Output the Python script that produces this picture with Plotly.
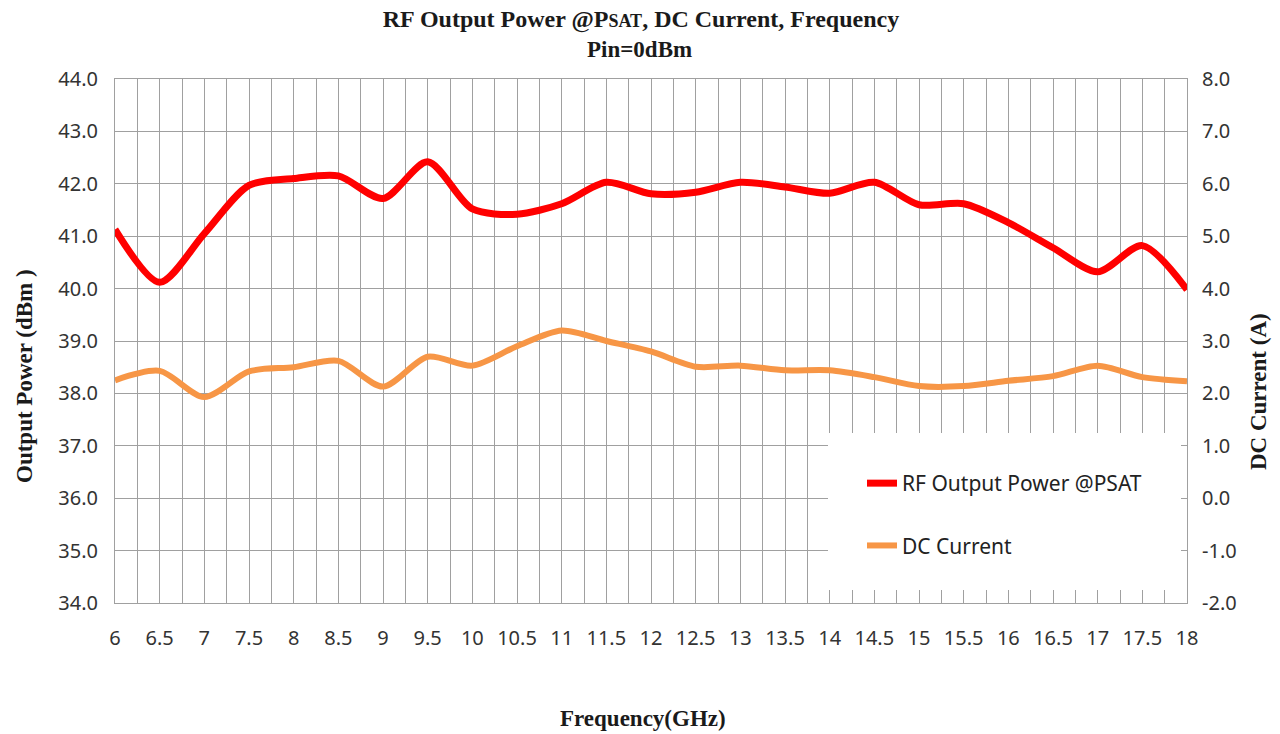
import plotly.graph_objects as go

freq = [6, 6.5, 7, 7.5, 8, 8.5, 9, 9.5, 10, 10.5, 11, 11.5, 12, 12.5, 13, 13.5, 14, 14.5, 15, 15.5, 16, 16.5, 17, 17.5, 18]
rf_power = [41.13, 40.12, 41.05, 41.97, 42.10, 42.15, 41.72, 42.42, 41.52, 41.42, 41.62, 42.03, 41.81, 41.84, 42.03, 41.94, 41.82, 42.03, 41.60, 41.62, 41.26, 40.78, 40.32, 40.82, 39.98]
dc_current = [2.25, 2.43, 1.93, 2.42, 2.50, 2.62, 2.13, 2.70, 2.53, 2.90, 3.20, 3.00, 2.80, 2.51, 2.53, 2.44, 2.44, 2.31, 2.14, 2.14, 2.24, 2.33, 2.53, 2.31, 2.23]

x_ticks = [6, 6.5, 7, 7.5, 8, 8.5, 9, 9.5, 10, 10.5, 11, 11.5, 12, 12.5, 13, 13.5, 14, 14.5, 15, 15.5, 16, 16.5, 17, 17.5, 18]
x_tick_text = ["6", "6.5", "7", "7.5", "8", "8.5", "9", "9.5", "10", "10.5", "11", "11.5", "12", "12.5", "13", "13.5", "14", "14.5", "15", "15.5", "16", "16.5", "17", "17.5", "18"]
y1_ticks = [34, 35, 36, 37, 38, 39, 40, 41, 42, 43, 44]
y1_tick_text = ["34.0", "35.0", "36.0", "37.0", "38.0", "39.0", "40.0", "41.0", "42.0", "43.0", "44.0"]
y2_ticks = [-2, -1, 0, 1, 2, 3, 4, 5, 6, 7, 8]
y2_tick_text = ["-2.0", "-1.0", "0.0", "1.0", "2.0", "3.0", "4.0", "5.0", "6.0", "7.0", "8.0"]

RED = "#FF0000"
ORANGE = "#F79646"
GRID = "#A0A0A0"
TICKFONT = dict(family="Noto Sans, DejaVu Sans, sans-serif", size=20, color="#333333")
SERIF = "Liberation Serif, Times New Roman, serif"

# plot area in page pixels
X0, X1, Y0, Y1 = 115, 1187, 79, 603
PW, PH = X1 - X0, Y1 - Y0

def px(xp):
    return (xp - X0) / PW

def py(yp):
    return (Y1 - yp) / PH

fig = go.Figure()
fig.add_trace(go.Scatter(
    x=freq, y=rf_power, name="RF Output Power @PSAT", mode="lines",
    line=dict(color=RED, width=7, shape="spline", smoothing=0.8),
    legendgroup="a", yaxis="y"))
fig.add_trace(go.Scatter(
    x=freq, y=dc_current, name="DC Current", mode="lines",
    line=dict(color=ORANGE, width=6, shape="spline", smoothing=0.8),
    legendgroup="b", yaxis="y2"))

# white box behind legend (covers grid as in the reference)
fig.add_shape(type="rect", xref="paper", yref="paper",
              x0=px(828), x1=px(1181), y0=py(590), y1=py(433),
              fillcolor="white", line=dict(width=0), layer="above")

fig.update_layout(
    width=1280, height=734,
    margin=dict(l=X0, r=1280 - X1, t=Y0, b=734 - Y1),
    paper_bgcolor="white", plot_bgcolor="white",
    showlegend=True,
    title=dict(text="<b>RF Output Power @P<span style='font-size:18px'>SAT</span>, DC Current, Frequency</b>",
               x=641 / 1280, xanchor="center", y=1 - 19 / 734, yanchor="middle",
               font=dict(family=SERIF, size=24, color="#1a1a1a")),
    legend=dict(x=px(862), y=py(463), xanchor="left", yanchor="top",
                bgcolor="rgba(0,0,0,0)", borderwidth=0,
                font=dict(family="Noto Sans, DejaVu Sans, sans-serif", size=21, color="#222222"),
                traceorder="grouped", tracegroupgap=32),
    xaxis=dict(range=[6, 18], tickvals=x_ticks, ticktext=x_tick_text,
               showgrid=True, gridcolor=GRID, gridwidth=1,
               minor=dict(dtick=0.25, tick0=6, showgrid=True, gridcolor=GRID, gridwidth=1),
               showline=True, linecolor=GRID, linewidth=1, mirror=True,
               ticks="outside", ticklen=17, tickcolor="rgba(0,0,0,0)",
               tickfont=TICKFONT, zeroline=False),
    yaxis=dict(range=[34, 44], tickvals=y1_ticks, ticktext=y1_tick_text,
               showgrid=True, gridcolor=GRID, gridwidth=1,
               showline=True, linecolor=GRID, linewidth=1,
               ticks="outside", ticklen=12, tickcolor="rgba(0,0,0,0)",
               tickfont=TICKFONT, zeroline=False),
    yaxis2=dict(range=[-2, 8], tickvals=y2_ticks, ticktext=y2_tick_text,
                overlaying="y", side="right", showgrid=False,
                showline=True, linecolor=GRID, linewidth=1,
                ticks="outside", ticklen=10, tickcolor="rgba(0,0,0,0)",
                tickfont=TICKFONT, zeroline=False),
    annotations=[
        dict(text="<b>Pin=0dBm</b>", xref="paper", yref="paper",
             x=px(639), y=py(50), showarrow=False,
             xanchor="center", yanchor="middle",
             font=dict(family=SERIF, size=23, color="#1a1a1a")),
        dict(text="<b>Frequency(GHz)</b>", xref="paper", yref="paper",
             x=px(643), y=py(718), showarrow=False,
             xanchor="center", yanchor="middle",
             font=dict(family=SERIF, size=23, color="#1a1a1a")),
        dict(text="<b>Output Power (dBm )</b>", xref="paper", yref="paper",
             x=px(25), y=py(376), showarrow=False,
             xanchor="center", yanchor="middle", textangle=-90,
             font=dict(family=SERIF, size=23, color="#1a1a1a")),
        dict(text="<b>DC Current (A)</b>", xref="paper", yref="paper",
             x=px(1258), y=py(392), showarrow=False,
             xanchor="center", yanchor="middle", textangle=-90,
             font=dict(family=SERIF, size=23, color="#1a1a1a")),
    ],
)

fig.write_html("out.html", config={"displayModeBar": False},
               post_script="document.body.style.margin='0';")
